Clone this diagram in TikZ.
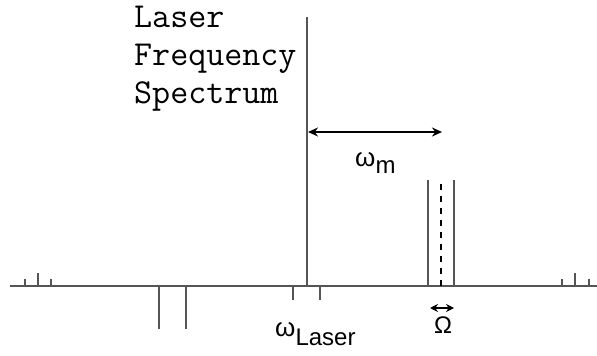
\documentclass[tikz,border=0pt]{standalone}
\usepackage{fontspec}
\setmainfont{Liberation Sans}
\usetikzlibrary{arrows.meta}
\definecolor{specgray}{RGB}{85,85,85}

\begin{document}
\begin{tikzpicture}[x=1pt, y=-1pt,
  axis/.style={specgray, line width=2.4pt},
  peak/.style={specgray, line width=2.4pt},
  centerline/.style={black, line width=2.4pt, dash pattern=on 6pt off 6pt},
  arrow/.style={{Stealth[length=10pt,width=9pt]}-{Stealth[length=10pt,width=9pt]}, black, line width=2.2pt},
  smallarrow/.style={{Stealth[length=8pt,width=8pt]}-{Stealth[length=8pt,width=8pt]}, black, line width=2.2pt},
  lab/.style={inner sep=0pt, anchor=base west, font=\fontsize{26}{30}\selectfont}
]
  \useasboundingbox (0,0) rectangle (597,356);

  % Axis
  \draw[axis] (10,286) -- (597,286);

  % Carrier
  \coordinate (carrier) at (307,286);
  \coordinate (carriertop) at (307,17);
  \draw[peak] (carrier) -- (carriertop);

  % Small side peaks
  \foreach \x/\h in {25/7, 38/13, 51/7, 562/7, 575/13, 589/7}
    \draw[peak] (\x,286) -- ++(0,-\h);

  % Lines below the axis
  \foreach \x/\h in {159/43, 186/43, 293/14, 320/14}
    \draw[peak] (\x,286) -- ++(0,\h);

  % Sideband
  \draw[peak] (428,286) -- (428,180);
  \draw[peak] (454,286) -- (454,180);
  \coordinate (side) at (441,286);
  \coordinate (sidetop) at (441,180);
  \draw[centerline] (side) -- (sidetop);

  % Labels
  \node[inner sep=0pt, anchor=north west, align=left, font=\ttfamily\fontsize{35}{38}\selectfont] (title) at (134,6) {Laser\\Frequency\\Spectrum};
  \node[lab] (wm) at (355,166) {ω\fontsize{24}{28}\selectfont\raisebox{-7pt}{m}};
  \node[lab] (wlaser) at (275,336) {ω\fontsize{24}{28}\selectfont\raisebox{-9pt}{Laser}};
  \node[inner sep=0pt, font=\fontsize{24}{28}\selectfont] (bigomega) at (443,325) {Ω};

  % Arrows
  \coordinate (wmleft) at (308,132);
  \coordinate (wmright) at (442,132);
  \draw[arrow] (wmleft) -- (wmright);
  \coordinate (omleft) at (430,308);
  \coordinate (omright) at (454,308);
  \draw[smallarrow] (omleft) -- (omright);
\end{tikzpicture}
\end{document}
